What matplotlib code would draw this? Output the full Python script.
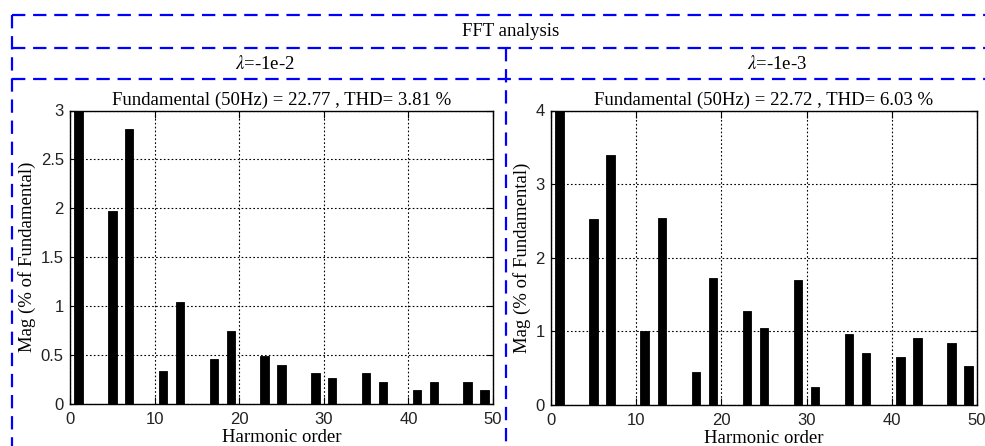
import matplotlib
matplotlib.use("Agg")
import matplotlib.pyplot as plt
from matplotlib.lines import Line2D

plt.rcParams['mathtext.fontset'] = 'stix'

harmonics = [1, 5, 7, 11, 13, 17, 19, 23, 25, 29, 31, 35, 37, 41, 43, 47, 49]
mag_left = [100, 1.97, 2.81, 0.34, 1.04, 0.46, 0.75, 0.49, 0.40, 0.32, 0.27,
            0.32, 0.22, 0.14, 0.22, 0.22, 0.14]
mag_right = [100, 2.52, 3.40, 1.00, 2.54, 0.45, 1.72, 1.28, 1.04, 1.70, 0.24,
             0.97, 0.71, 0.65, 0.91, 0.84, 0.53]
titles = ["Fundamental (50Hz) = 22.77 , THD= 3.81 %",
          "Fundamental (50Hz) = 22.72 , THD= 6.03 %"]
headers = [r"$\lambda$=-1e-2", r"$\lambda$=-1e-3"]
ylims = [3, 4]
yticks_left = [0, 0.5, 1, 1.5, 2, 2.5, 3]
ytick_labels_left = ["0", "0.5", "1", "1.5", "2", "2.5", "3"]
yticks_right = [0, 1, 2, 3, 4]
xticks = [0, 10, 20, 30, 40, 50]

W, H = 985, 446
fig = plt.figure(figsize=(W / 100, H / 100), dpi=100)

serif = 'Liberation Serif'
sans = 'Liberation Sans'

def px(x0, y0, w, h):
    return [x0 / W, 1 - (y0 + h) / H, w / W, h / H]

ax1 = fig.add_axes(px(70, 110.5, 423, 293.5))
ax2 = fig.add_axes(px(551, 110.5, 426, 294.5))

for ax, mags, title, ylim, yt, ytl in [
        (ax1, mag_left, titles[0], ylims[0], yticks_left, ytick_labels_left),
        (ax2, mag_right, titles[1], ylims[1], yticks_right, [str(v) for v in yticks_right])]:
    ax.bar(harmonics, mags, width=1.0, color='black', edgecolor='black', linewidth=0.6)
    ax.set_xlim(0, 50)
    ax.set_ylim(0, ylim)
    ax.set_xticks(xticks)
    ax.set_xticklabels([str(v) for v in xticks], fontfamily=sans, fontsize=12, color='#222222')
    ax.set_yticks(yt)
    ax.set_yticklabels(ytl, fontfamily=sans, fontsize=12, color='#222222')
    ax.tick_params(direction='in', length=5, width=0.8, top=True, right=True)
    ax.tick_params(axis='x', pad=5.5)
    ax.tick_params(axis='y', pad=4.5)
    ax.grid(True, color='black', linestyle=(0, (1.5, 2)), linewidth=0.8)
    ax.set_axisbelow(True)
    for s in ax.spines.values():
        s.set_linewidth(1.0)
    ax.set_title(title, fontfamily=serif, fontsize=13.5, pad=4)
    ax.set_xlabel("Harmonic order", fontfamily=serif, fontsize=13.5, labelpad=1.5)
    ax.set_ylabel("Mag (% of Fundamental)", fontfamily=serif, fontsize=13.5, labelpad=3)

fig.text(511 / W, 1 - 31 / H, "FFT analysis", ha='center', va='center',
         fontfamily=serif, fontsize=13.5)
fig.text(265 / W, 1 - 64 / H, headers[0], ha='center', va='center',
         fontfamily=serif, fontsize=13.5)
fig.text(777 / W, 1 - 64 / H, headers[1], ha='center', va='center',
         fontfamily=serif, fontsize=13.5)

dash = dict(color='#0000ff', linewidth=1.6, linestyle=(0, (6, 3.5)))
def hline(y, x0, x1):
    fig.add_artist(Line2D([x0 / W, x1 / W], [1 - y / H, 1 - y / H], **dash))
def vline(x, y0, y1):
    fig.add_artist(Line2D([x / W, x / W], [1 - y0 / H, 1 - y1 / H], **dash))

hline(15, 12, 985)
hline(48, 12, 985)
hline(79, 12, 985)
vline(12, 15, 446)
vline(506, 48, 446)

fig.savefig("out.png", dpi=100)
